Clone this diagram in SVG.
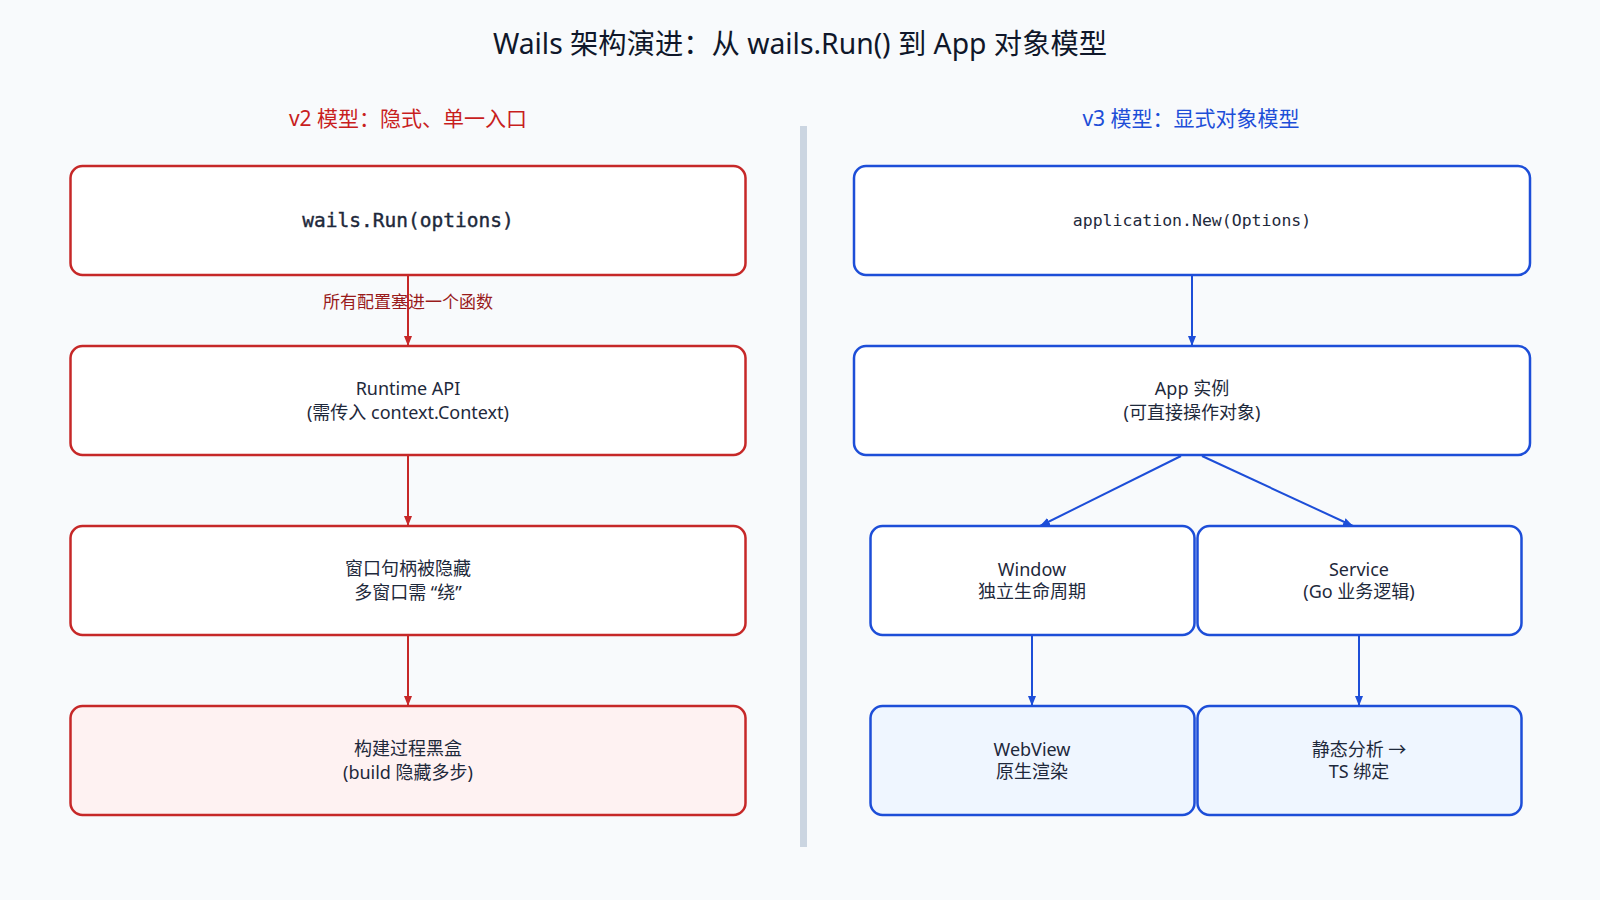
<svg xmlns="http://www.w3.org/2000/svg" width="1600" height="900" viewBox="0 0 1600 900">
<defs>
<style>
.t{font-family:"Noto Sans","Noto Sans CJK SC",sans-serif;fill:#1e293b;text-anchor:middle;dominant-baseline:central}
.title{font-size:28.3px;fill:#0f172a}
.h{font-size:21px}
.n{font-size:18px}
.mono{font-family:"DejaVu Sans Mono","Liberation Mono",monospace;fill:#1e293b;text-anchor:middle;dominant-baseline:central}
.rbox{fill:#ffffff;stroke:#c62828;stroke-width:2.5}
.rboxd{fill:#fef2f2;stroke:#c62828;stroke-width:2.5}
.bbox{fill:#ffffff;stroke:#1d4ed8;stroke-width:2.5}
.bboxd{fill:#eff6ff;stroke:#1d4ed8;stroke-width:2.5}
.rl{stroke:#c62828;stroke-width:2;fill:none}
.bl{stroke:#1d4ed8;stroke-width:2;fill:none}
</style>
<marker id="ar" viewBox="0 0 10 10" refX="10" refY="5" markerWidth="5" markerHeight="5" orient="auto" markerUnits="strokeWidth">
<path d="M0,1 L10,5 L0,9 z" fill="#c62828"/>
</marker>
<marker id="ab" viewBox="0 0 10 10" refX="10" refY="5" markerWidth="5" markerHeight="5" orient="auto" markerUnits="strokeWidth">
<path d="M0,1 L10,5 L0,9 z" fill="#1d4ed8"/>
</marker>
</defs>
<rect width="1600" height="900" fill="#f8fafc"/>
<text class="t title" x="800" y="43">Wails 架构演进：从 wails.Run() 到 App 对象模型</text>
<text class="t h" x="408" y="118" style="fill:#c81e1e">v2 模型：隐式、单一入口</text>
<text class="t h" x="1191" y="118" style="fill:#1d4ed8">v3 模型：显式对象模型</text>
<rect x="800" y="126" width="7" height="721" fill="#cbd5e1"/>

<g id="connectors">
<line class="rl" x1="408" y1="275" x2="408" y2="346" marker-end="url(#ar)"/>
<line class="rl" x1="408" y1="455" x2="408" y2="526" marker-end="url(#ar)"/>
<line class="rl" x1="408" y1="635" x2="408" y2="706" marker-end="url(#ar)"/>
<text class="t" x="408" y="301" style="font-size:17px;fill:#991b1b">所有配置塞进一个函数</text>
<line class="bl" x1="1192" y1="275" x2="1192" y2="346" marker-end="url(#ab)"/>
<line class="bl" x1="1181" y1="456" x2="1040" y2="526" marker-end="url(#ab)"/>
<line class="bl" x1="1202" y1="456" x2="1353" y2="526" marker-end="url(#ab)"/>
<line class="bl" x1="1032" y1="635" x2="1032" y2="706" marker-end="url(#ab)"/>
<line class="bl" x1="1359" y1="635" x2="1359" y2="706" marker-end="url(#ab)"/>
</g>

<g id="v2-run">
<rect class="rbox" x="70.5" y="166" width="675" height="109" rx="12"/>
<text class="mono" x="408" y="220" style="font-size:19.5px;stroke:#1e293b;stroke-width:0.4">wails.Run(options)</text>
</g>
<g id="v2-runtime">
<rect class="rbox" x="70.5" y="346" width="675" height="109" rx="12"/>
<text class="t n" x="408" y="388">Runtime API</text>
<text class="t n" x="408" y="412">(需传入 context.Context)</text>
</g>
<g id="v2-window">
<rect class="rbox" x="70.5" y="526" width="675" height="109" rx="12"/>
<text class="t n" x="408" y="568">窗口句柄被隐藏</text>
<text class="t n" x="408" y="592">多窗口需 “绕”</text>
</g>
<g id="v2-build">
<rect class="rboxd" x="70.5" y="706" width="675" height="109" rx="12"/>
<text class="t n" x="408" y="748">构建过程黑盒</text>
<text class="t n" x="408" y="772">(build 隐藏多步)</text>
</g>

<g id="v3-new">
<rect class="bbox" x="854" y="166" width="676" height="109" rx="12"/>
<text class="mono" x="1192" y="220" style="font-size:16.5px">application.New(Options)</text>
</g>
<g id="v3-app">
<rect class="bbox" x="854" y="346" width="676" height="109" rx="12"/>
<text class="t n" x="1192" y="388">App 实例</text>
<text class="t n" x="1192" y="412">(可直接操作对象)</text>
</g>
<g id="v3-window">
<rect class="bbox" x="870.5" y="526" width="324" height="109" rx="12"/>
<text class="t n" x="1032" y="569">Window</text>
<text class="t n" x="1032" y="591">独立生命周期</text>
</g>
<g id="v3-service">
<rect class="bbox" x="1197.5" y="526" width="324" height="109" rx="12"/>
<text class="t n" x="1359" y="569">Service</text>
<text class="t n" x="1359" y="591">(Go 业务逻辑)</text>
</g>
<g id="v3-webview">
<rect class="bboxd" x="870.5" y="706" width="324" height="109" rx="12"/>
<text class="t n" x="1032" y="749">WebView</text>
<text class="t n" x="1032" y="771">原生渲染</text>
</g>
<g id="v3-static">
<rect class="bboxd" x="1197.5" y="706" width="324" height="109" rx="12"/>
<text class="t n" x="1359" y="749">静态分析 →</text>
<text class="t n" x="1359" y="771">TS 绑定</text>
</g>
</svg>
